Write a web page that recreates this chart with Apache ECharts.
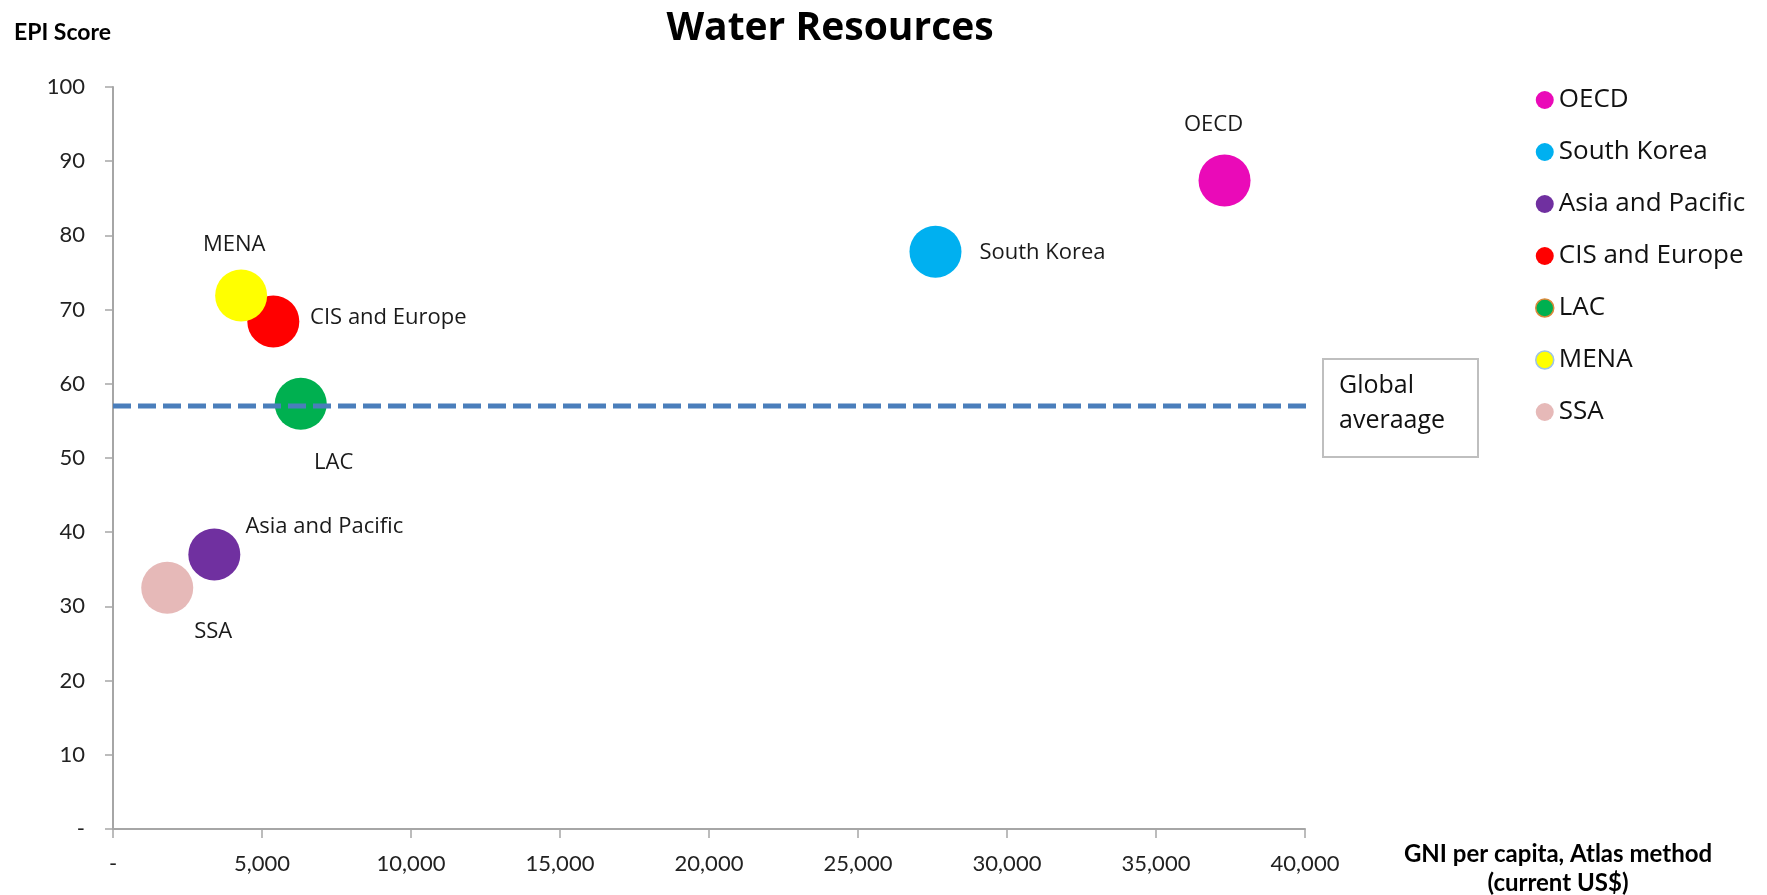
<!DOCTYPE html>
<html>
<head>
<meta charset="utf-8">
<script src="https://cdn.jsdelivr.net/npm/echarts@6/dist/echarts.min.js"></script>
<style>
html,body{margin:0;padding:0;background:#fff;}
#chart{width:1767px;height:895px;}
</style>
</head>
<body>
<div id="chart"></div>
<script>
// ---- data ----
const regions = ['OECD', 'South Korea', 'Asia and Pacific', 'CIS and Europe', 'LAC', 'MENA', 'SSA'];
const gniPerCapita = [37300, 27600, 3400, 5380, 6300, 4300, 1820];
const epiScore = [87.4, 77.8, 37.0, 68.4, 57.3, 71.9, 32.5];
const globalAverage = 57.0;
const globalAvgX = [0, 40150];
const xTicks = [0, 5000, 10000, 15000, 20000, 25000, 30000, 35000, 40000];
const yTicks = [0, 10, 20, 30, 40, 50, 60, 70, 80, 90, 100];

// ---- styles ----
const colors = {
  'OECD': '#ea0ab8',
  'South Korea': '#00b0f0',
  'Asia and Pacific': '#7030a0',
  'CIS and Europe': '#ff0000',
  'LAC': '#00b050',
  'MENA': '#ffff00',
  'SSA': '#e6b9b8'
};
const legendBorders = { 'LAC': '#d9893a', 'MENA': '#9dc3e6' };
// label placement relative to bubble centre (pixels)
const labelOffsets = {
  'OECD': [-11, -56],
  'South Korea': [107, 1],
  'Asia and Pacific': [110, -28],
  'CIS and Europe': [115, -4],
  'LAC': [33, 59],
  'MENA': [-7, -51],
  'SSA': [46, 44]
};
const labelFont = '"Open Sans", "DejaVu Sans", sans-serif';
const tickFont = 'Lato, "Liberation Sans", sans-serif';

const fmtX = v => v === 0 ? '-' : v.toLocaleString('en-US');
const fmtY = v => v === 0 ? '-' : String(v);

const series = regions.map((name, i) => ({
  name: name,
  type: 'scatter',
  symbol: 'circle',
  symbolSize: 52,
  itemStyle: { color: colors[name], opacity: 1 },
  z: 3,
  label: {
    show: true,
    position: 'inside',
    offset: labelOffsets[name],
    formatter: name,
    color: '#1a1a1a',
    fontFamily: labelFont,
    fontSize: 22
  },
  emphasis: { disabled: true },
  data: [[gniPerCapita[i], epiScore[i]]]
}));

series.push({
  name: 'Global average',
  type: 'line',
  data: globalAvgX.map(x => [x, globalAverage]),
  symbol: 'none',
  z: 4,
  lineStyle: { color: '#4a7ebb', width: 5, type: [18, 7] },
  silent: true
});

const chart = echarts.init(document.getElementById('chart'), null, { renderer: 'canvas' });
chart.setOption({
  animation: false,
  backgroundColor: '#ffffff',
  title: {
    text: 'Water Resources',
    left: 825,
    textAlign: 'center',
    top: 4,
    textStyle: { fontFamily: labelFont, fontWeight: 'bold', fontSize: 39, color: '#000' }
  },
  grid: { left: 113, right: 462, top: 87, bottom: 66, containLabel: false },
  legend: {
    orient: 'vertical',
    left: 1530,
    top: 82,
    itemGap: 26,
    itemWidth: 18,
    itemHeight: 18,
    icon: 'circle',
    textStyle: { fontFamily: labelFont, fontSize: 26, color: '#111' },
    data: regions.map(n => ({
      name: n,
      itemStyle: legendBorders[n] ? { borderColor: legendBorders[n], borderWidth: 1.5 } : undefined
    }))
  },
  xAxis: {
    type: 'value',
    min: xTicks[0],
    max: xTicks[xTicks.length - 1],
    interval: 5000,
    splitLine: { show: false },
    axisLine: { show: true, lineStyle: { color: '#a6a6a6', width: 2 } },
    axisTick: { show: true, length: 9, lineStyle: { color: '#a6a6a6', width: 1.5 } },
    axisLabel: { formatter: fmtX, margin: 24, fontFamily: tickFont, fontSize: 22, color: '#222' }
  },
  yAxis: {
    type: 'value',
    min: yTicks[0],
    max: yTicks[yTicks.length - 1],
    interval: 10,
    splitLine: { show: false },
    axisLine: { show: true, lineStyle: { color: '#a6a6a6', width: 2 } },
    axisTick: { show: true, length: 8, lineStyle: { color: '#a6a6a6', width: 1.5 } },
    axisLabel: { formatter: fmtY, margin: 28, fontFamily: tickFont, fontSize: 22, color: '#222' }
  },
  graphic: [
    {
      type: 'text',
      left: 14,
      top: 21,
      style: { text: 'EPI Score', font: 'bold 23px ' + tickFont, fill: '#000' }
    },
    {
      type: 'text',
      x: 1558,
      y: 840,
      style: {
        text: 'GNI per capita, Atlas method\n(current US$)',
        font: 'bold 24px ' + tickFont,
        fill: '#000',
        align: 'center',
        verticalAlign: 'top',
        lineHeight: 29
      }
    },
    {
      type: 'rect',
      left: 1322,
      top: 358,
      shape: { width: 155, height: 98 },
      style: { fill: '#fff', stroke: '#bfbfbf', lineWidth: 2 },
      z: 10
    },
    {
      type: 'text',
      left: 1339,
      top: 368,
      style: { text: 'Global\naveraage', font: '25px ' + labelFont, fill: '#111', lineHeight: 35 },
      z: 11
    }
  ],
  series: series
});
</script>
</body>
</html>
